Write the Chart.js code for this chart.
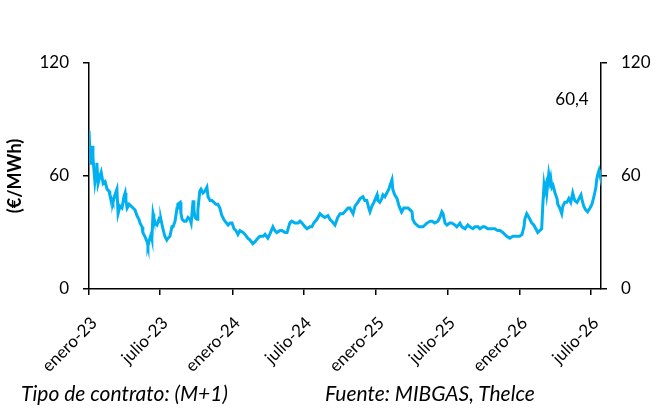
<!DOCTYPE html>
<html>
<head>
<meta charset="utf-8">
<script src="https://cdn.jsdelivr.net/npm/chart.js@4/dist/chart.umd.min.js"></script>
<style>
  html, body { margin: 0; padding: 0; background: #fff; }
  #wrap { position: relative; width: 656px; height: 412px; }
  .note { position: absolute; font-family: Lato, "Open Sans", sans-serif; font-style: italic; font-size: 21px; line-height: 25px; color: #000; white-space: nowrap; }
</style>
</head>
<body>
<div id="wrap">
  <canvas id="c" width="656" height="412"></canvas>
  <div class="note" style="left:21px; top:380px;">Tipo de contrato: (M+1)</div>
  <div class="note" style="left:325px; top:380px;">Fuente: MIBGAS, Thelce</div>
</div>
<script>
// Days since 1 January 2023
const days = [0,3,5,8,10,15,18,20,23,28,31,36,41,46,51,53,59,61,66,71,74,79,84,89,92,94,97,102,107,112,117,122,127,130,135,137,142,148,150,155,158,160,163,165,168,173,178,181,183,188,193,198,201,206,211,214,219,224,226,232,234,237,242,247,252,257,260,265,267,270,275,277,282,285,290,295,300,303,308,313,318,323,328,333,338,343,346,354,359,364,369,374,379,384,392,397,404,410,417,422,430,435,443,448,455,460,468,473,478,486,491,499,504,511,516,524,532,537,542,550,555,562,567,572,580,588,593,600,608,613,618,626,633,639,646,651,659,664,672,677,684,690,697,702,707,712,715,720,725,733,735,740,745,748,753,758,763,766,771,773,778,784,789,791,796,801,807,812,817,822,824,829,834,840,845,850,855,860,868,873,880,888,893,898,901,906,911,918,923,931,936,944,949,957,964,969,977,982,990,995,1002,1007,1015,1020,1028,1033,1040,1046,1053,1058,1063,1071,1079,1084,1089,1096,1102,1107,1109,1114,1117,1122,1127,1132,1137,1142,1147,1152,1155,1158,1160,1163,1165,1168,1170,1173,1175,1178,1181,1186,1191,1193,1198,1203,1206,1211,1216,1221,1226,1231,1236,1242,1247,1252,1254,1259,1264,1269,1275,1280,1285,1290,1292,1295,1298,1300,1303];
// Gas price (€/MWh), MIBGAS M+1
const prices = [84,70,66,76,70,57,62,67,56,60,62,56,57,53,52,50,47,46,50,53,40,44,43,49,51,47,43,45,44,43,42,39,37,35,33,30,28,25,23,27,29,27,40,38,35,34,37,36,37,32,28,26,27,28,33,33,36,43,45,46,40,37,36,36,38,37,35,47,42,38,37,42,52,53,51,52,54,49,47,47,46,45,45,43,39,37,36,34,35,35,32,31,29,31,30,29,27,26,24,25,27,28,28,29,27,29,33,31,30,31,31,30,30,35,36,35,35,36,35,33,32,33,33,35,37,40,39,38,39,37,36,34,38,40,40,41,43,43,40,44,46,48,49,47,47,43,41,44,46,50,47,46,48,50,49,51,53,55,58,53,50,48,44,43,41,43,43,43,42,41,37,35,34,33,33,33,34,35,36,36,35,36,38,41,40,35,34,35,35,34,33,35,33,32,34,33,32,33,33,32,33,33,32,32,32,32,31,31,30,29,28,27,28,28,28,28,29,33,37,40,39,37,35,34,32,30,31,32,45,55,52,55,51,57,61,57,59,54,55,51,48,45,43,40,44,46,46,48,46,51,47,46,48,50,48,44,42,41,43,45,49,54,58,61,63,61,60.4];
const tickDays = [0,181,365,546,731,912,1096,1277];
const tickLabels = ['enero-23','julio-23','enero-24','julio-24','enero-25','julio-25','enero-26','julio-26'];
const yTicks = [0,60,120];
const lastLabel = '60,4';

const FONT = 'Lato, "Open Sans", sans-serif';

const labelPlugin = {
  id: 'lastLabel',
  afterDatasetsDraw(chart) {
    const ctx = chart.ctx;
    const xs = chart.scales.x, ys = chart.scales.y;
    const i = days.length - 1;
    const px = xs.getPixelForValue(days[i]) - 29;
    const py = ys.getPixelForValue(prices[i]) - 76;
    ctx.save();
    ctx.font = '17px ' + FONT;
    ctx.fillStyle = '#000';
    ctx.textAlign = 'center';
    ctx.textBaseline = 'middle';
    ctx.fillText(lastLabel, px, py);
    ctx.restore();
  }
};

const yCommon = {
  min: 0, max: 120,
  afterBuildTicks(s) { s.ticks = yTicks.map(v => ({ value: v })); },
  grid: { drawOnChartArea: false, drawTicks: true, tickLength: 6, color: '#000', lineWidth: 1.5 },
  border: { display: true, color: '#000', width: 1.5 },
  ticks: { color: '#000', font: { family: FONT, size: 17 }, padding: 14 }
};

new Chart(document.getElementById('c'), {
  type: 'line',
  data: {
    datasets: [{
      data: days.map((d, i) => ({ x: d, y: prices[i] })),
      borderColor: '#00B0F0',
      borderWidth: 3,
      pointRadius: 0,
      tension: 0,
      fill: false,
      yAxisID: 'y'
    }]
  },
  options: {
    responsive: false,
    animation: false,
    layout: { padding: { top: 63, left: 0, right: 0, bottom: 0 } },
    plugins: { legend: { display: false }, tooltip: { enabled: false } },
    scales: {
      x: {
        type: 'linear',
        min: 0, max: days[days.length - 1],
        afterBuildTicks(s) { s.ticks = tickDays.map(v => ({ value: v })); },
        afterFit(s) { s.height = 123; },
        grid: { drawOnChartArea: false, drawTicks: true, tickLength: 6, color: '#000', lineWidth: 1.5 },
        border: { display: true, color: '#000', width: 1.5 },
        ticks: {
          color: '#000', font: { family: FONT, size: 17 },
          autoSkip: false, maxRotation: 45, minRotation: 45, padding: 18, labelOffset: 5,
          callback(v) { const k = tickDays.indexOf(v); return k >= 0 ? tickLabels[k] : ''; }
        }
      },
      y: Object.assign({}, yCommon, {
        position: 'left',
        afterFit(s) { s.width = 89; },
        title: { display: true, text: '(€/MWh)', color: '#000', font: { family: FONT, size: 18, weight: 'bold' }, padding: { top: 4, bottom: 0 } }
      }),
      y2: Object.assign({}, yCommon, {
        position: 'right',
        afterFit(s) { s.width = 55; }
      })
    }
  },
  plugins: [labelPlugin]
});
</script>
</body>
</html>
